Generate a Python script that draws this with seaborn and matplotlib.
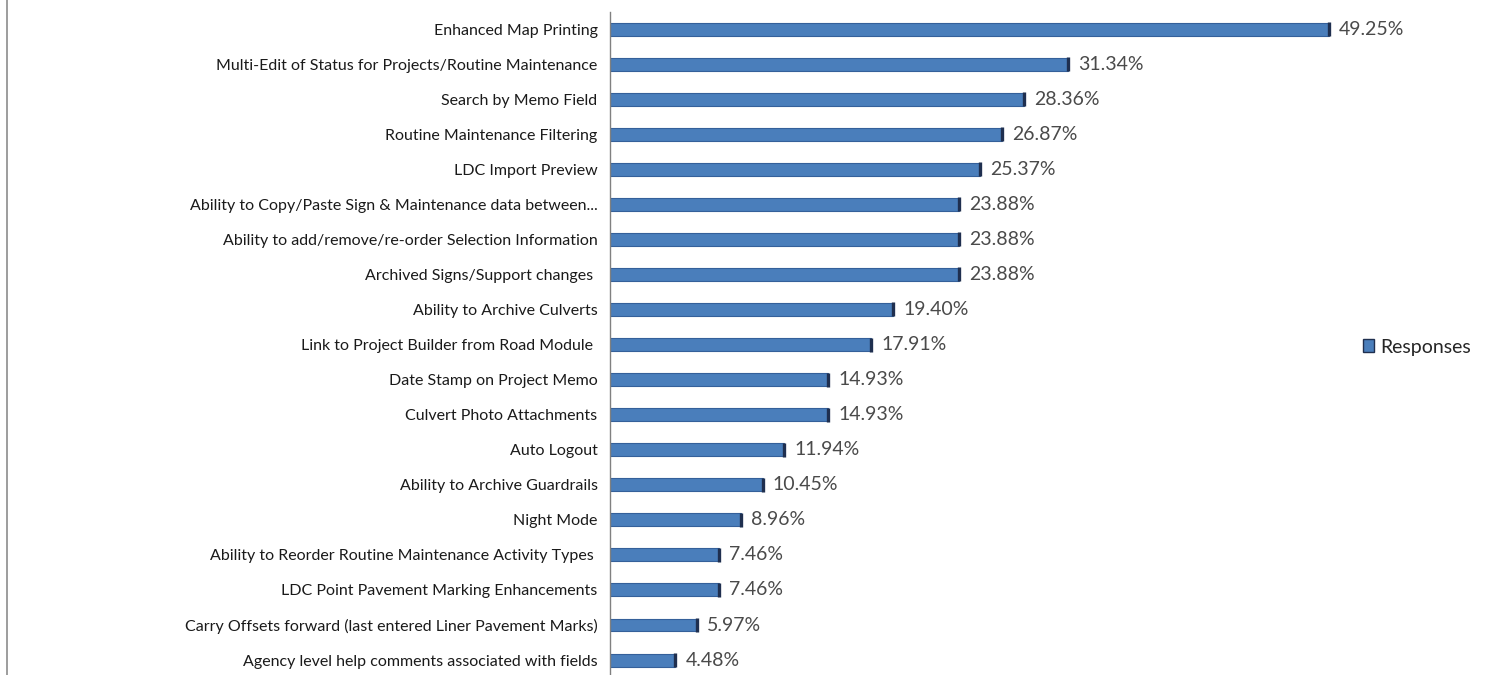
import numpy as np
import pandas as pd
import matplotlib
matplotlib.use("Agg")
import matplotlib.pyplot as plt
import seaborn as sns
from matplotlib.lines import Line2D
from matplotlib.patches import Patch

# Datos del grafico
features = [
    "Enhanced Map Printing",
    "Multi-Edit of Status for Projects/Routine Maintenance",
    "Search by Memo Field",
    "Routine Maintenance Filtering",
    "LDC Import Preview",
    "Ability to Copy/Paste Sign & Maintenance data between...",
    "Ability to add/remove/re-order Selection Information",
    "Archived Signs/Support changes ",
    "Ability to Archive Culverts",
    "Link to Project Builder from Road Module ",
    "Date Stamp on Project Memo",
    "Culvert Photo Attachments",
    "Auto Logout",
    "Ability to Archive Guardrails",
    "Night Mode",
    "Ability to Reorder Routine Maintenance Activity Types ",
    "LDC Point Pavement Marking Enhancements",
    "Carry Offsets forward (last entered Liner Pavement Marks)",
    "Agency level help comments associated with fields",
]
responses = [49.25, 31.34, 28.36, 26.87, 25.37, 23.88, 23.88, 23.88, 19.40, 17.91,
             14.93, 14.93, 11.94, 10.45, 8.96, 7.46, 7.46, 5.97, 4.48]

df = pd.DataFrame({"Feature": features, "Responses": responses})

sns.set_theme(style="white")
plt.rcParams["font.family"] = ["Lato", "DejaVu Sans"]

W, H = 1494, 675
fig = plt.figure(figsize=(W / 100, H / 100), dpi=100)
# area del grafico: de y=11.5 a y=677.6 px
ax = fig.add_axes([610 / W, (H - 677.6) / H, 730 / W, 666.1 / H])

bar_color = "#4a7ebb"
sns.barplot(data=df, y="Feature", x="Responses", orient="h", color=bar_color,
            width=0.37, ax=ax, saturation=1, edgecolor="#35609a", linewidth=0.8)

# marca oscura al final de cada barra (estilo 3D)
ax.scatter(df["Responses"], np.arange(len(df)), marker="|", s=110,
           color="#1f2f4f", linewidths=2.4, zorder=3)

for i, v in enumerate(df["Responses"]):
    ax.text(v + 0.7, i, f"{v:.2f}%", va="center", ha="left", fontsize=14,
            color="#4a4a4a")

ax.set_xlim(0, 50)
ax.set_ylim(len(df) - 0.5, -0.5)
ax.set_xlabel("")
ax.set_ylabel("")
ax.set_xticks([])
ax.tick_params(axis="y", which="major", length=0, labelsize=11.5, labelcolor="#1a1a1a", pad=9)
ax.set_yticks(np.arange(len(df) + 1) - 0.5, minor=True)
ax.tick_params(axis="y", which="minor", length=4, color="#808080", direction="out")

for s in ["top", "right", "bottom"]:
    ax.spines[s].set_visible(False)
ax.spines["left"].set_color("#808080")
ax.spines["left"].set_linewidth(1)

# leyenda a la derecha
handle = Patch(facecolor=bar_color, edgecolor="#1f2f4f", label="Responses")
fig.legend(handles=[handle], loc="center left", bbox_to_anchor=(1345 / W, 1 - 347 / H),
           frameon=False, fontsize=14, handlelength=0.6, handleheight=0.6,
           handletextpad=0.3, labelcolor="#262626")

# borde del grafico a la izquierda
fig.add_artist(Line2D([7 / W, 7 / W], [0, 1], color="#8c8c8c", linewidth=1.2))

fig.savefig("out.png", dpi=100)
